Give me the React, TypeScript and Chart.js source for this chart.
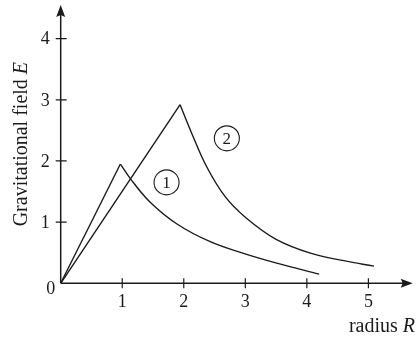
import React, { useEffect, useRef } from "react";
import { Chart, registerables } from "chart.js";

Chart.register(...registerables);

// Axis ticks
const xTickValues = [1, 2, 3, 4, 5];
const yTickValues = [1, 2, 3, 4];
const originLabel = "0";

// Curve 1: linear rise inside, falling field outside
const curve1Radius = [0.97, 1.14, 1.45, 1.89, 2.43, 2.97, 3.51, 4.2];
const curve1Field = [1.95, 1.7, 1.33, 0.97, 0.68, 0.49, 0.33, 0.15];

// Curve 2: linear rise inside, falling field outside
const curve2Radius = [1.94, 2.13, 2.37, 2.67, 3.0, 3.5, 4.1, 4.6, 5.09];
const curve2Field = [2.92, 2.45, 1.91, 1.42, 1.08, 0.72, 0.48, 0.37, 0.28];

// Circled curve markers
const markerText = ["1", "2"];
const markerRadius = [1.72, 2.7];
const markerField = [1.65, 2.37];

const SERIF = "'Liberation Serif', 'Times New Roman', Times, serif";
const INK = "#1b1b1b";

const pts = (xs: number[], ys: number[]) => xs.map((x, i) => ({ x, y: ys[i] }));

export default function App() {
  const ref = useRef<HTMLCanvasElement | null>(null);

  useEffect(() => {
    if (!ref.current) return;

    const axesPlugin = {
      id: "axesPlugin",
      afterDatasetsDraw(chart: any) {
        const { ctx, chartArea } = chart;
        const xs = chart.scales.x;
        const ys = chart.scales.y;
        const x0 = xs.getPixelForValue(0);
        const y0 = ys.getPixelForValue(0);
        ctx.save();
        ctx.strokeStyle = INK;
        ctx.fillStyle = INK;
        ctx.lineWidth = 1.5;

        // axis lines
        ctx.beginPath();
        ctx.moveTo(x0, y0);
        ctx.lineTo(x0, chartArea.top + 8);
        ctx.moveTo(x0, y0);
        ctx.lineTo(chartArea.right - 8, y0);
        ctx.stroke();

        // arrow heads
        const top = chartArea.top;
        ctx.beginPath();
        ctx.moveTo(x0, top);
        ctx.lineTo(x0 + 4.5, top + 12);
        ctx.lineTo(x0, top + 10);
        ctx.lineTo(x0 - 4.5, top + 12);
        ctx.closePath();
        ctx.fill();
        const right = chartArea.right;
        ctx.beginPath();
        ctx.moveTo(right, y0);
        ctx.lineTo(right - 12, y0 - 4.5);
        ctx.lineTo(right - 10, y0);
        ctx.lineTo(right - 12, y0 + 4.5);
        ctx.closePath();
        ctx.fill();

        // tick marks crossing the axes
        ctx.lineWidth = 1.2;
        ctx.beginPath();
        yTickValues.forEach((v) => {
          const y = ys.getPixelForValue(v);
          ctx.moveTo(x0 - 5, y);
          ctx.lineTo(x0 + 6, y);
        });
        xTickValues.forEach((v) => {
          const x = xs.getPixelForValue(v);
          ctx.moveTo(x, y0 - 5);
          ctx.lineTo(x, y0 + 5);
        });
        ctx.stroke();

        // tick labels
        ctx.font = `18px ${SERIF}`;
        ctx.textAlign = "right";
        ctx.textBaseline = "middle";
        yTickValues.forEach((v) => {
          ctx.fillText(String(v), x0 - 11, ys.getPixelForValue(v) + 1);
        });
        ctx.textAlign = "center";
        xTickValues.forEach((v) => {
          ctx.fillText(String(v), xs.getPixelForValue(v), y0 + 19);
        });
        ctx.fillText(originLabel, x0 - 10, y0 + 6);

        // circled markers
        ctx.lineWidth = 1.1;
        markerText.forEach((t, i) => {
          const cx = xs.getPixelForValue(markerRadius[i]);
          const cy = ys.getPixelForValue(markerField[i]);
          ctx.beginPath();
          ctx.arc(cx, cy, 12.5, 0, Math.PI * 2);
          ctx.stroke();
          ctx.font = `17px ${SERIF}`;
          ctx.fillText(t, cx, cy + 1);
        });

        // y-axis title
        ctx.save();
        const midY = (chartArea.top + y0) / 2;
        ctx.translate(27, midY);
        ctx.rotate(-Math.PI / 2);
        ctx.textBaseline = "alphabetic";
        ctx.textAlign = "left";
        const a = "Gravitational field ";
        const b = "E";
        ctx.font = `20px ${SERIF}`;
        const wa = ctx.measureText(a).width;
        ctx.font = `italic 20px ${SERIF}`;
        const wb = ctx.measureText(b).width;
        const start = -(wa + wb) / 2;
        ctx.font = `20px ${SERIF}`;
        ctx.fillText(a, start, 0);
        ctx.font = `italic 20px ${SERIF}`;
        ctx.fillText(b, start + wa, 0);
        ctx.restore();

        // x-axis title
        ctx.textBaseline = "alphabetic";
        ctx.textAlign = "left";
        const c = "radius ";
        const d = "R";
        ctx.font = `20px ${SERIF}`;
        const wc = ctx.measureText(c).width;
        ctx.font = `italic 20px ${SERIF}`;
        const wd = ctx.measureText(d).width;
        const xs0 = 415 - wc - wd;
        ctx.font = `20px ${SERIF}`;
        ctx.fillText(c, xs0, 332);
        ctx.font = `italic 20px ${SERIF}`;
        ctx.fillText(d, xs0 + wc, 332);

        ctx.restore();
      },
    };

    const lineStyle = {
      borderColor: INK,
      borderWidth: 1.4,
      pointRadius: 0,
      fill: false,
    };

    const chart = new Chart(ref.current, {
      type: "line",
      data: {
        datasets: [
          { ...lineStyle, label: "1 rise", data: [{ x: 0, y: 0 }, { x: curve1Radius[0], y: curve1Field[0] }], tension: 0 },
          { ...lineStyle, label: "1 fall", data: pts(curve1Radius, curve1Field), tension: 0.4 },
          { ...lineStyle, label: "2 rise", data: [{ x: 0, y: 0 }, { x: curve2Radius[0], y: curve2Field[0] }], tension: 0 },
          { ...lineStyle, label: "2 fall", data: pts(curve2Radius, curve2Field), tension: 0.4 },
        ],
      },
      options: {
        animation: false,
        responsive: false,
        layout: { padding: { top: 5, right: 4.3, left: 60.7, bottom: 58.7 } },
        plugins: { legend: { display: false }, tooltip: { enabled: false } },
        scales: {
          x: { type: "linear", min: 0, max: 5.72, display: false },
          y: { type: "linear", min: 0, max: 4.55, display: false },
        },
      },
      plugins: [axesPlugin],
    } as any);

    return () => chart.destroy();
  }, []);

  return (
    <div style={{ position: "absolute", left: 0, top: 0, width: 417, height: 342, background: "#fff" }}>
      <canvas ref={ref} width={417} height={342} style={{ display: "block" }} />
    </div>
  );
}
